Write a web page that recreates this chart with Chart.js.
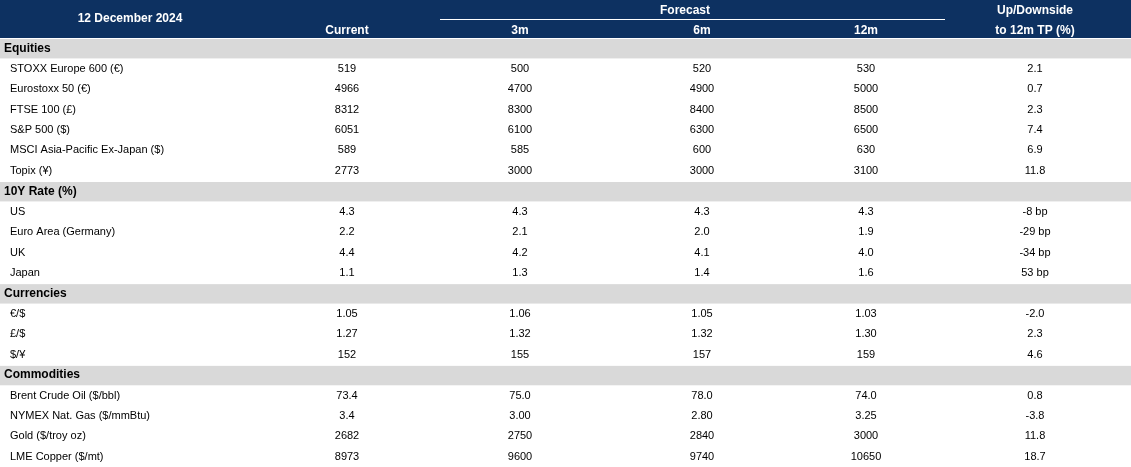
<!DOCTYPE html>
<html>
<head>
<meta charset="utf-8">
<script src="https://cdn.jsdelivr.net/npm/chart.js@4"></script>
<style>
  html, body { margin: 0; padding: 0; background: #fff; }
  #wrap { width: 1131px; height: 467px; position: relative; }
</style>
</head>
<body>
<div id="wrap"><canvas id="tbl"></canvas></div>
<script>
// ─── Table data (null = section header row) ─────────────────────────────────

const rowLabels = [
  "Equities",
  "STOXX Europe 600 (€)", "Eurostoxx 50 (€)", "FTSE 100 (£)", "S&P 500 ($)",
  "MSCI Asia-Pacific Ex-Japan ($)", "Topix (¥)",
  "10Y Rate (%)",
  "US", "Euro Area (Germany)", "UK", "Japan",
  "Currencies",
  "€/$", "£/$", "$/¥",
  "Commodities",
  "Brent Crude Oil ($/bbl)", "NYMEX Nat. Gas ($/mmBtu)", "Gold ($/troy oz)", "LME Copper ($/mt)"
];
const current = [null, "519", "4966", "8312", "6051", "589", "2773",
  null, "4.3", "2.2", "4.4", "1.1",
  null, "1.05", "1.27", "152",
  null, "73.4", "3.4", "2682", "8973"];
const fc3m = [null, "500", "4700", "8300", "6100", "585", "3000",
  null, "4.3", "2.1", "4.2", "1.3",
  null, "1.06", "1.32", "155",
  null, "75.0", "3.00", "2750", "9600"];
const fc6m = [null, "520", "4900", "8400", "6300", "600", "3000",
  null, "4.3", "2.0", "4.1", "1.4",
  null, "1.05", "1.32", "157",
  null, "78.0", "2.80", "2840", "9740"];
const fc12m = [null, "530", "5000", "8500", "6500", "630", "3100",
  null, "4.3", "1.9", "4.0", "1.6",
  null, "1.03", "1.30", "159",
  null, "74.0", "3.25", "3000", "10650"];
const upside = [null, "2.1", "0.7", "2.3", "7.4", "6.9", "11.8",
  null, "-8 bp", "-29 bp", "-34 bp", "53 bp",
  null, "-2.0", "2.3", "4.6",
  null, "0.8", "-3.8", "11.8", "18.7"];

const columns = [current, fc3m, fc6m, fc12m, upside];
const headerTitle = "12 December 2024";
const columnHeads = ["Current", "3m", "6m", "12m", "to 12m TP (%)"];

// ─── Layout / style ─────────────────────────────────────────────────────────

const HEADER_H = 38;
const COL_X = [347, 520, 702, 866, 1035];
const NAVY = "#0d3161";
const GREY = "#d9d9d9";
const FONT = "Liberation Sans, Arial, sans-serif";

const tablePlugin = {
  id: "tablePlugin",
  beforeDraw(chart) {
    const { ctx, scales: { x, y } } = chart;
    const rowH = y.getPixelForValue(1) - y.getPixelForValue(0);
    ctx.save();

    // header band
    ctx.fillStyle = NAVY;
    ctx.fillRect(0, 0, chart.width, HEADER_H);
    ctx.fillStyle = "#fff";
    ctx.font = "bold 12px " + FONT;
    ctx.textAlign = "center";
    ctx.textBaseline = "middle";
    ctx.fillText(headerTitle, 130, 19);
    ctx.fillText("Forecast", 685, 11);
    ctx.fillText("Up/Downside", 1035, 11);
    columnHeads.forEach((h, i) => ctx.fillText(h, x.getPixelForValue(COL_X[i]), 31));
    ctx.strokeStyle = "#fff";
    ctx.lineWidth = 1;
    ctx.beginPath();
    ctx.moveTo(x.getPixelForValue(440), 19.5);
    ctx.lineTo(x.getPixelForValue(945), 19.5);
    ctx.stroke();

    // rows
    rowLabels.forEach((label, i) => {
      const cy = y.getPixelForValue(i);
      if (current[i] === null) {
        ctx.fillStyle = GREY;
        ctx.fillRect(0, cy - rowH / 2 + 1, chart.width, rowH - 1);
        ctx.fillStyle = "#000";
        ctx.font = "bold 12px " + FONT;
        ctx.textAlign = "left";
        ctx.fillText(label, 4, cy);
        return;
      }
      ctx.fillStyle = "#000";
      ctx.font = "11px " + FONT;
      ctx.textAlign = "left";
      ctx.fillText(label, 10, cy);
      ctx.textAlign = "center";
      columns.forEach((col, c) => ctx.fillText(col[i], x.getPixelForValue(COL_X[c]), cy));
    });
    ctx.restore();
  }
};

new Chart(document.getElementById("tbl"), {
  type: "bar",
  data: {
    labels: rowLabels,
    datasets: [{ data: rowLabels.map(() => null) }]
  },
  options: {
    indexAxis: "y",
    responsive: true,
    maintainAspectRatio: false,
    animation: false,
    layout: { padding: { top: HEADER_H, bottom: 0, left: 0, right: 0 } },
    plugins: { legend: { display: false }, tooltip: { enabled: false } },
    scales: {
      x: { type: "linear", min: 0, max: 1131, display: false },
      y: { type: "category", display: false, offset: true }
    }
  },
  plugins: [tablePlugin]
});
</script>
</body>
</html>
